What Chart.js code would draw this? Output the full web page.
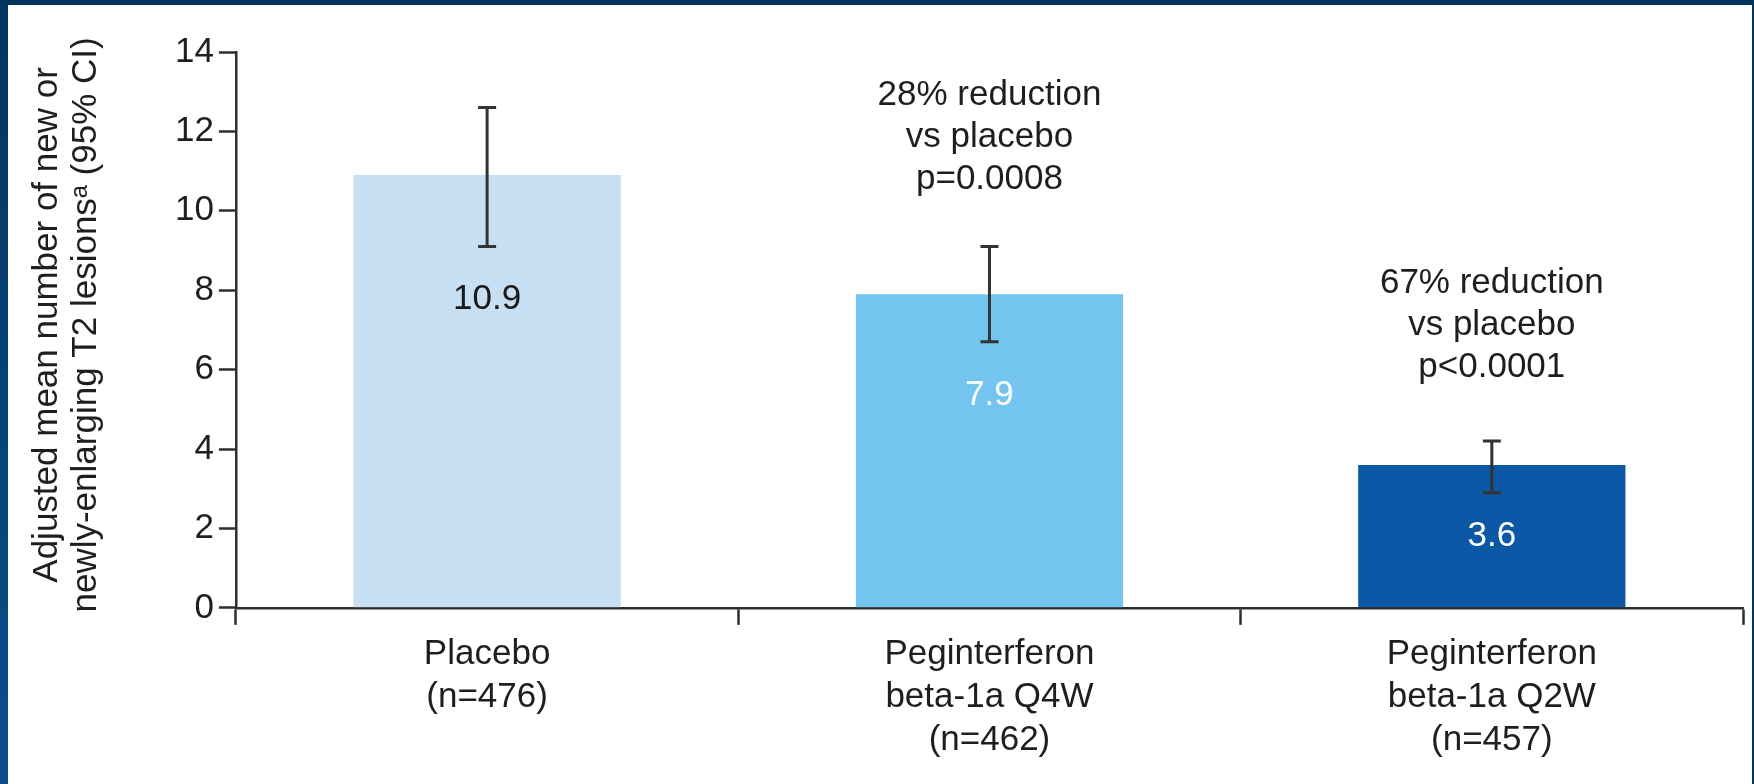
<!DOCTYPE html>
<html>
<head>
<meta charset="utf-8">
<script src="https://cdn.jsdelivr.net/npm/chart.js@4.4.1/dist/chart.umd.min.js"></script>
<style>
  html, body { margin: 0; padding: 0; }
  body { width: 1754px; height: 784px; background: #00355f; position: relative; overflow: hidden; }
  #edge { position: absolute; left: 0; top: 0; width: 8px; height: 784px; background: linear-gradient(#00365f, #0a4f8c); }
  #panel { position: absolute; left: 8px; top: 5px; width: 1744px; height: 779px; background: #fff; }
  canvas { display: block; }
</style>
</head>
<body>
<div id="edge"></div>
<div id="panel"><canvas id="lesionChart" width="1744" height="779"></canvas></div>
<script>
// groups and results
var groups = [
    ['Placebo', '(n=476)'],
    ['Peginterferon', 'beta-1a Q4W', '(n=462)'],
    ['Peginterferon', 'beta-1a Q2W', '(n=457)']
];
var meanLesions = [10.9, 7.9, 3.6];
var ciLower = [9.1, 6.7, 2.9];
var ciUpper = [12.6, 9.1, 4.2];
var reductionNotes = [
    null,
    ['28% reduction', 'vs placebo', 'p=0.0008'],
    ['67% reduction', 'vs placebo', 'p<0.0001']
];
var yTicks = [0, 2, 4, 6, 8, 10, 12, 14];
var yTitle = ['Adjusted mean number of new or', 'newly-enlarging T2 lesions\u1d43 (95% CI)'];

var FONT = "'Liberation Sans', Arial, sans-serif";
var INK = '#1e1e1e';
var AXIS = '#2e2e2e';

// error bars, value labels, reduction notes and the y title
var overlay = {
    id: 'overlay',
    afterDatasetsDraw: function(chart) {
        var ctx = chart.ctx;
        var y = chart.scales.y;
        var bars = chart.getDatasetMeta(0).data;
        var labelColors = ['#1a1a1a', '#ffffff', '#ffffff'];
        var labelDrop = [53, 54, 44];
        var noteGap = [0, 67, 74];

        ctx.save();
        bars.forEach(function(bar, i) {
            var hi = y.getPixelForValue(ciUpper[i]);
            var lo = y.getPixelForValue(ciLower[i]);
            ctx.strokeStyle = '#333333';
            ctx.lineWidth = 3;
            ctx.beginPath();
            ctx.moveTo(bar.x, hi); ctx.lineTo(bar.x, lo);
            ctx.moveTo(bar.x - 9, hi); ctx.lineTo(bar.x + 9, hi);
            ctx.moveTo(bar.x - 9, lo); ctx.lineTo(bar.x + 9, lo);
            ctx.stroke();

            ctx.font = '35px ' + FONT;
            ctx.textAlign = 'center';
            ctx.textBaseline = 'middle';
            ctx.fillStyle = labelColors[i];
            ctx.fillText(meanLesions[i].toFixed(1), bar.x, lo + labelDrop[i]);

            var note = reductionNotes[i];
            if (note) {
                ctx.fillStyle = INK;
                note.forEach(function(line, k) {
                    ctx.fillText(line, bar.x, hi - noteGap[i] - (note.length - 1 - k) * 42);
                });
            }
        });

        // rotated y title, two lines
        var cy = (chart.chartArea.top + chart.chartArea.bottom) / 2 - 5;
        ctx.font = '35px ' + FONT;
        ctx.fillStyle = INK;
        ctx.textAlign = 'center';
        ctx.textBaseline = 'middle';
        [39, 78].forEach(function(cx, k) {
            ctx.save();
            ctx.translate(cx, cy);
            ctx.rotate(-Math.PI / 2);
            ctx.fillText(yTitle[k], 0, 0);
            ctx.restore();
        });
        ctx.restore();
    }
};

var ctx = document.getElementById('lesionChart').getContext('2d');
var lesionChart = new Chart(ctx, {
    type: 'bar',
    data: {
        labels: groups,
        datasets: [{
            data: meanLesions,
            backgroundColor: ['#c6dff3', '#73c5ef', '#0c57a6'],
            borderWidth: 0,
            categoryPercentage: 1,
            barPercentage: 0.532
        }]
    },
    options: {
        responsive: false,
        animation: false,
        devicePixelRatio: 1,
        layout: { padding: { left: 162, top: 47, right: 9, bottom: 14 } },
        plugins: {
            legend: { display: false },
            tooltip: { enabled: false }
        },
        scales: {
            x: {
                grid: {
                    offset: true,
                    drawOnChartArea: false,
                    tickLength: 17,
                    tickWidth: 2.5,
                    tickColor: AXIS
                },
                border: { color: AXIS, width: 2.5 },
                ticks: {
                    color: INK,
                    padding: 8,
                    maxRotation: 0,
                    font: { family: FONT, size: 35, lineHeight: 1.23 }
                }
            },
            y: {
                min: 0,
                max: 14,
                afterBuildTicks: function(scale) {
                    scale.ticks = yTicks.map(function(v) { return { value: v }; });
                },
                grid: {
                    drawOnChartArea: false,
                    tickLength: 17,
                    tickWidth: 2.5,
                    tickColor: AXIS
                },
                border: { color: AXIS, width: 2.5 },
                ticks: {
                    color: INK,
                    padding: 5,
                    font: { family: FONT, size: 35 }
                }
            }
        }
    },
    plugins: [overlay]
});
</script>
</body>
</html>
